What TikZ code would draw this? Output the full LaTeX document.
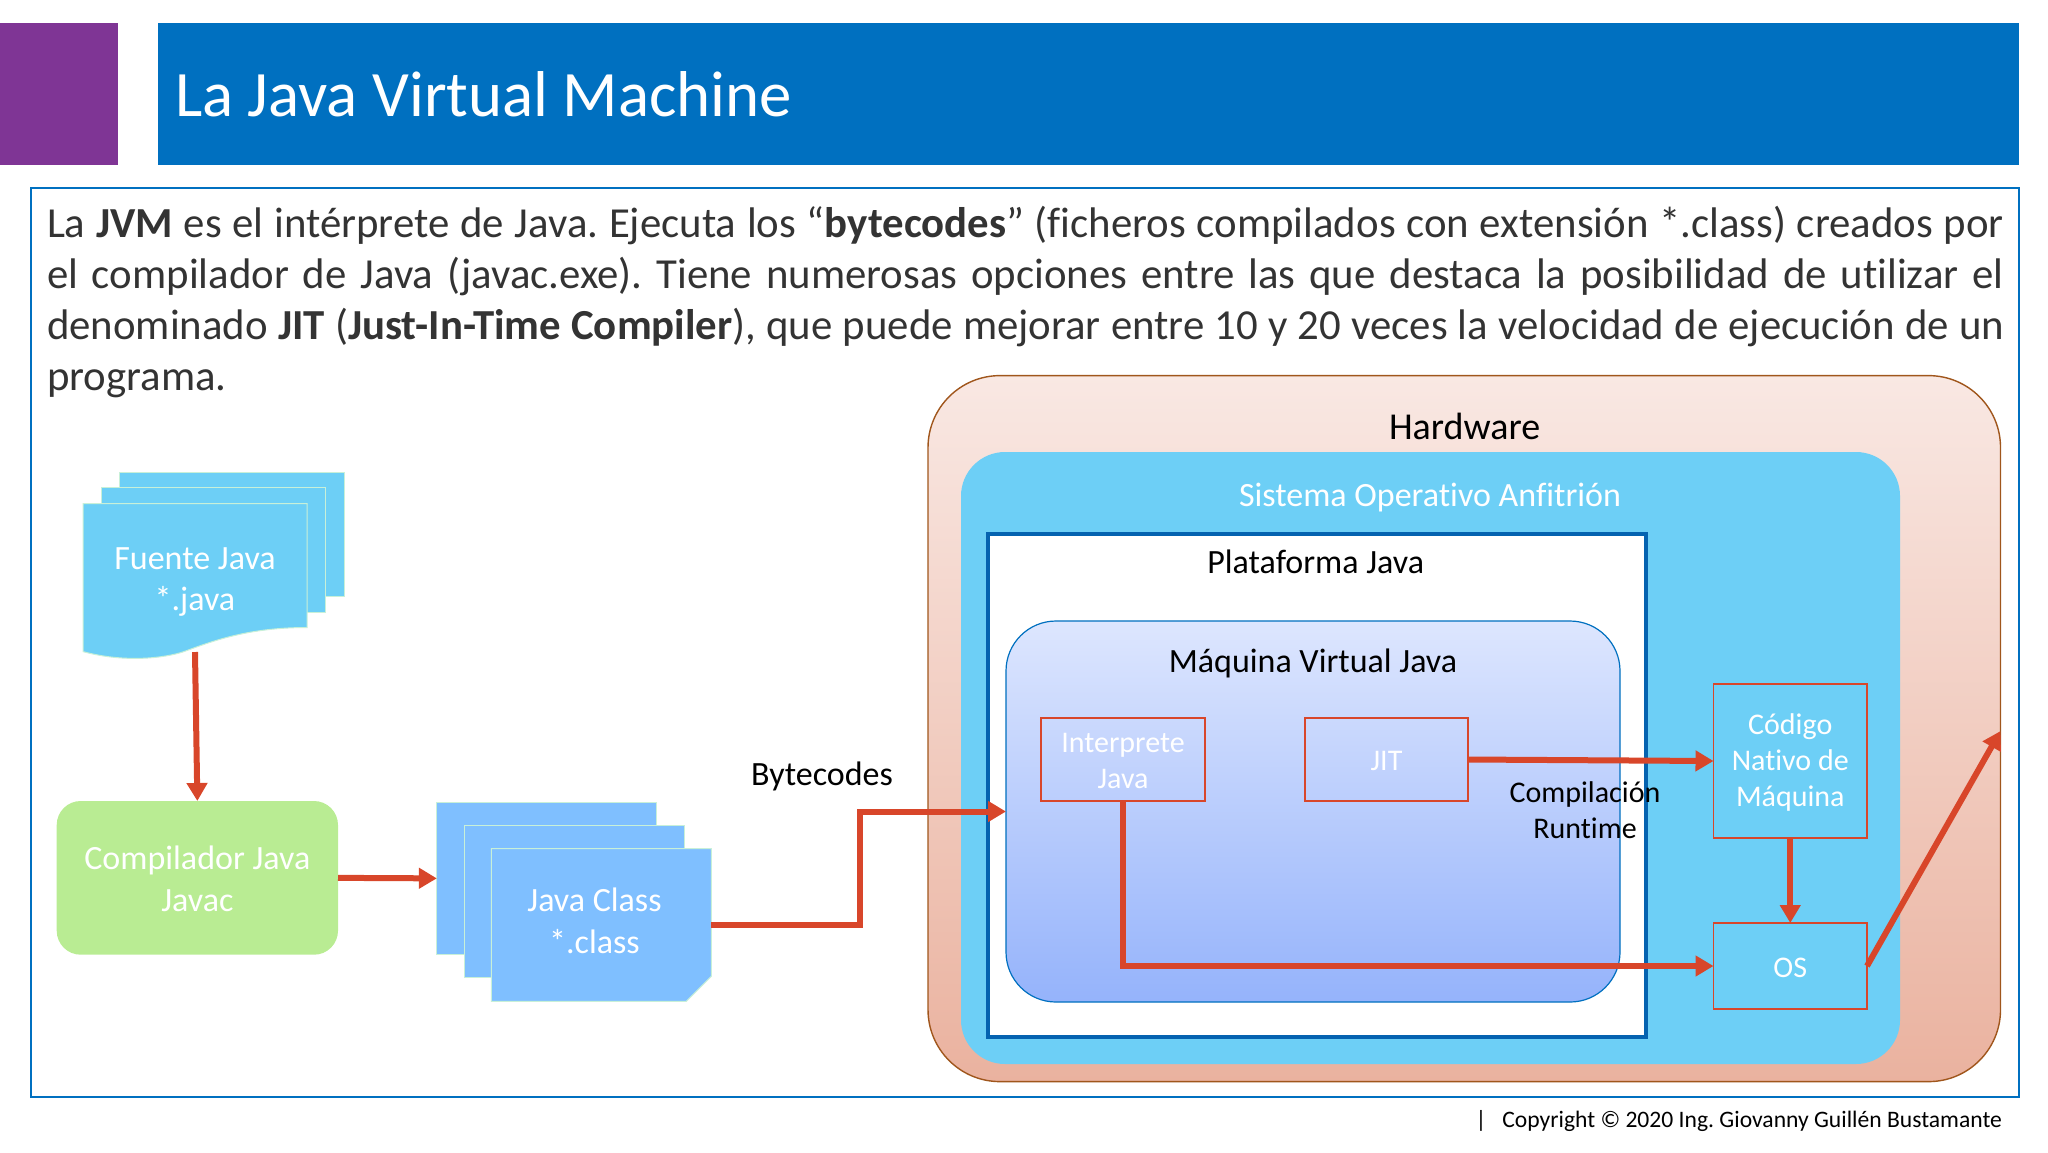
\documentclass[tikz,border=0pt]{standalone}
\usepackage{fontspec}
\setmainfont{Carlito}[Ligatures={TeX,NoCommon}]
\usetikzlibrary{positioning,arrows.meta,calc}

\definecolor{titleblue}{HTML}{0070C0}
\definecolor{platformblue}{HTML}{0563B0}
\definecolor{markpurple}{HTML}{7F3595}
\definecolor{bodygrey}{HTML}{333333}
\definecolor{skyfill}{HTML}{6DCFF6}
\definecolor{sheetline}{HTML}{C8F0D8}
\definecolor{classfill}{HTML}{7FBFFF}
\definecolor{greenfill}{HTML}{B9EC93}
\definecolor{arrowred}{HTML}{D8462A}
\definecolor{hwline}{HTML}{A0561C}
\definecolor{hwtop}{HTML}{F9E8E3}
\definecolor{hwbottom}{HTML}{EAB29F}
\definecolor{jvmtop}{HTML}{DDE6FE}
\definecolor{jvmbottom}{HTML}{95B3FB}

\hyphenpenalty=10000
\frenchspacing

\begin{document}
\begin{tikzpicture}[
    x=0.5pt,y=-0.5pt,
    every node/.style={inner sep=0pt,outer sep=0pt},
    plain/.style={font=\fontsize{17}{18}\selectfont,align=center},
    whitetext/.style={plain,text=white},
    sheettext/.style={whitetext,font=\fontsize{17}{20.7}\selectfont},
    parttext/.style={whitetext,yshift=-0.8pt,font=\fontsize{15}{18}\selectfont},
    sheet/.style={rectangle,draw=sheetline,line width=0.5pt,fill=#1,minimum width=110pt,minimum height=76.35pt},
    partbox/.style={rectangle,draw=arrowred,line width=0.6pt},
    arrow/.style={draw=arrowred,line width=3pt,-{Triangle[length=9pt,width=10pt]}}
]

\useasboundingbox (0,0) rectangle (2048,1152);

% Title
\node[rectangle,fill=markpurple,minimum width=59pt,minimum height=71.25pt] (mark) at (59,94) {};
\node[rectangle,fill=titleblue,minimum width=930.5pt,minimum height=71.25pt] (titlebar) at (1088.5,94) {};
\node[anchor=base west,text=white,font=\fontsize{32.4}{36}\selectfont] (title) at (175,116) {La Java Virtual Machine};

% Text
\node[rectangle,draw=titleblue,line width=0.7pt,minimum width=994pt,minimum height=454.5pt] (content) at (1025,642.5) {};
\node[anchor=north west,text width=978.5pt,align=justify,text=bodygrey,font=\fontsize{21.4}{25.5}\selectfont] (body) at (47,206) {%
La \textbf{JVM} es el intérprete de Java. Ejecuta los “\textbf{bytecodes}” (ficheros compilados con extensión *.class) creados por\linebreak
el compilador de Java (javac.exe). Tiene numerosas opciones entre las que destaca la posibilidad de utilizar el\linebreak
denominado \textbf{JIT} (\textbf{Just-In-Time Compiler}), que puede mejorar entre 10 y 20 veces la velocidad de ejecución de un\linebreak
programa.};

% Hardware and what it holds
\node[rectangle,draw=hwline,line width=0.7pt,rounded corners=36pt,top color=hwtop,bottom color=hwbottom,minimum width=536.25pt,minimum height=353pt] (hardware) at (1464.25,728.6) {};
\node[plain,font=\fontsize{19}{20}\selectfont] (hardwaretext) at (1464.6,426.6) {Hardware};
\node[rectangle,fill=skyfill,rounded corners=22pt,minimum width=469.5pt,minimum height=306pt] (host) at (1430.5,758) {};
\node[whitetext] (hosttext) at (1430,497.5) {Sistema Operativo Anfitrión};
\node[rectangle,draw=platformblue,line width=2pt,fill=white,minimum width=329pt,minimum height=251.5pt] (platform) at (1316.8,785.6) {};
\node[plain] (platformtext) at (1315.7,562) {Plataforma Java};
\node[rectangle,draw=titleblue,line width=0.6pt,rounded corners=25pt,top color=jvmtop,bottom color=jvmbottom,minimum width=307pt,minimum height=190.5pt] (jvm) at (1313,811.5) {};
\node[plain] (jvmtext) at (1313,663.5) {Máquina Virtual Java};

\node[partbox,minimum width=82pt,minimum height=41.5pt] (interp) at (1123,759.5) {};
\node[parttext] (interptext) at (interp) {Interprete\\Java};
\node[partbox,minimum width=81.5pt,minimum height=41.5pt] (jit) at (1386.5,759.5) {};
\node[parttext] (jittext) at (jit) {JIT};
\node[partbox,minimum width=76.75pt,minimum height=77pt] (native) at (1790.25,761) {};
\node[parttext] (nativetext) at (native) {Código\\Nativo de\\Máquina};
\node[partbox,minimum width=76.75pt,minimum height=43pt] (os) at (1790.25,966) {};
\node[parttext] (ostext) at (os) {OS};
\node[plain,font=\fontsize{15}{18}\selectfont] (runtime) at (1585,810) {Compilación\\Runtime};

% Source sheets
\node[sheet=skyfill,minimum width=112.5pt,minimum height=62pt] (sourceA) at (231.5,534) {};
\node[sheet=skyfill,minimum width=112pt,minimum height=62.25pt] (sourceB) at (213,549.75) {};
\draw[draw=sheetline,line width=0.5pt,fill=skyfill] (83,503.5) -- (307,503.5) -- (307,627.5)
    .. controls (250,627.5) and (215,640) .. (184,651.6)
    .. controls (165,658) and (125,663) .. (83,651.6) -- cycle;
\node[sheettext] (source) at (195,582) {Fuente Java\\*.java};
\coordinate (sourcebottom) at (195,652);

% Compiler
\node[rectangle,fill=greenfill,rounded corners=12pt,minimum width=140.65pt,minimum height=76.85pt] (compiler) at (197.35,877.85) {};
\node[sheettext] (compilertext) at (197.35,879) {Compilador Java\\Javac};

% Class sheets
\node[sheet=classfill] (classA) at (546.85,878.35) {};
\node[sheet=classfill] (classB) at (574,901.35) {};
\node[minimum width=110pt,minimum height=76.35pt] (classC) at (601.25,925) {};
\draw[draw=sheetline,line width=0.5pt,fill=classfill] (classC.north west) -- (classC.north east)
    -- ($(classC.south east)-(0,25)$) -- ($(classC.south east)-(25,0)$) -- (classC.south west) -- cycle;
\node[sheettext] (classtext) at (594.5,921) {Java Class\\*.class};
\node[plain] (bytecodes) at (822,776.5) {Bytecodes};

% Connectors
\coordinate (hwpoint) at (2000.5,731);
\draw[arrow] (sourcebottom) -- (compiler.north);
\draw[arrow] (compiler.east) -- (classA.west);
\draw[arrow,line join=miter] (classC.east) -- ++(148.5,0) |- (jvm.west);
\draw[arrow] (jit.east) -- (native.west);
\draw[arrow,line join=miter] (interp.south) |- (os.west);
\draw[arrow] (native.south) -- (os.north);
\draw[arrow] (os.east) -- (hwpoint);

% Footer
\node[anchor=base east,font=\fontsize{11.8}{14}\selectfont] (copyright) at (2002,1127.5) {|\hspace{8pt}Copyright © 2020 Ing. Giovanny Guillén Bustamante};

\end{tikzpicture}
\end{document}
